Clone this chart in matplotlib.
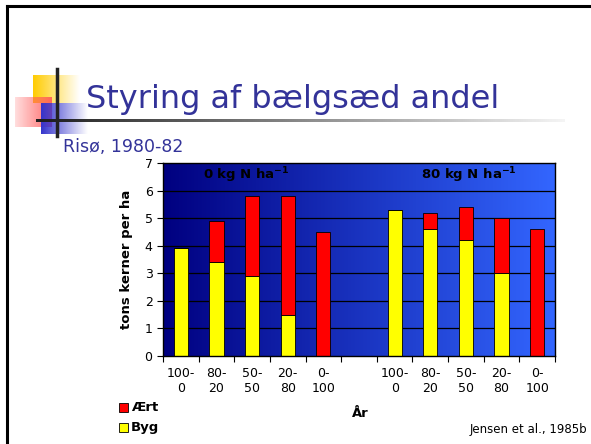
import numpy as np
import matplotlib.pyplot as plt
from matplotlib.patches import Rectangle
from matplotlib.lines import Line2D

# data: Byg (barley) and Ært (pea) yield, tons per ha
mix_labels = ['100-\n0', '80-\n20', '50-\n50', '20-\n80', '0-\n100',
              '',
              '100-\n0', '80-\n20', '50-\n50', '20-\n80', '0-\n100']
byg = [3.9, 3.4, 2.9, 1.5, 0.0, 0.0, 5.3, 4.6, 4.2, 3.0, 0.0]
aert = [0.0, 1.5, 2.9, 4.3, 4.5, 0.0, 0.0, 0.6, 1.2, 2.0, 4.6]
groups = ['0 kg N ha$^{\\mathbf{-1}}$', '80 kg N ha$^{\\mathbf{-1}}$']

title_col = '#333399'

fig = plt.figure(figsize=(5.91, 4.44), dpi=100)

# slide decoration
def px(x, y):
    return x / 591, 1 - y / 444

fig.add_artist(Line2D([px(7, 0)[0], px(7, 0)[0]], [px(0, 6)[1], 0], color='black', lw=2.2))
fig.add_artist(Line2D([px(7, 0)[0], 1], [px(0, 6)[1], px(0, 6)[1]], color='black', lw=2.2))

deco = fig.add_axes([0, 0, 1, 1], zorder=-5)
deco.axis('off')

def grad_box(ax, x0, x1, y0, y1, rgb, a_left, a_right, z):
    img = np.zeros((2, 128, 4))
    img[..., :3] = rgb
    img[..., 3] = np.linspace(a_left, a_right, 128)
    ax.imshow(img, extent=(x0, x1, y1, y0), aspect='auto', zorder=z, interpolation='bilinear')

grad_box(deco, 33, 80, 76, 103, (1.0, 0.8, 0.0), 1, 0, 1)
grad_box(deco, 15, 52, 97, 127, (1.0, 0.35, 0.35), 0.2, 0.9, 2)
grad_box(deco, 41, 88, 103, 134, (0.2, 0.2, 0.8), 1, 0, 3)
# title underline fading to the right
grad_box(deco, 36, 565, 120, 122.5, (0.12, 0.12, 0.12), 1, 0.05, 4)
deco.plot([57, 57], [69, 136], color='#222222', lw=2.5, zorder=5)
deco.set_xlim(0, 591)
deco.set_ylim(444, 0)

fig.text(px(86, 0)[0], px(0, 108)[1], 'Styring af bælgsæd andel', color=title_col,
         fontsize=23, fontfamily='DejaVu Sans')
fig.text(px(63, 0)[0], px(0, 152)[1], 'Risø, 1980-82', color=title_col, fontsize=12.5)

# chart
ax = fig.add_axes([163 / 591, 1 - 356 / 444, (555 - 163) / 591, (356 - 163) / 444])
x = np.arange(len(mix_labels))
ax.set_xlim(-0.5, len(mix_labels) - 0.5)
ax.set_ylim(0, 7)

bg = np.zeros((2, 256, 3))
left = np.array([0x00, 0x00, 0x80]) / 255
right = np.array([0x33, 0x66, 0xff]) / 255
t = np.linspace(0, 1, 256)
bg[:] = left + (right - left) * t[:, None]
ax.imshow(bg, extent=(-0.5, len(mix_labels) - 0.5, 0, 7), aspect='auto', zorder=0)

for yv in range(1, 7):
    ax.axhline(yv, color='black', lw=0.9, zorder=1)

ax.bar(x, byg, width=0.4, color='#ffff00', edgecolor='black', lw=0.6, zorder=2, label='Byg')
ax.bar(x, aert, bottom=byg, width=0.4, color='#ff0000', edgecolor='black', lw=0.6, zorder=2,
       label='Ært')

ax.set_yticks(range(8))
ax.tick_params(axis='y', labelsize=9, length=4, direction='out')
ax.set_xticks(np.arange(-0.5, len(mix_labels), 1))
ax.set_xticklabels([])
ax.tick_params(axis='x', length=4, direction='out')
ax.set_xticks(x, minor=True)
ax.set_xticklabels(mix_labels, minor=True, fontsize=9)
ax.tick_params(axis='x', which='minor', length=0, pad=8)
for s in ax.spines.values():
    s.set_linewidth(1)

ax.set_ylabel('tons kerner per ha', fontsize=9.5, fontweight='bold', labelpad=8)
ax.text(0.62, 6.55, groups[0], fontsize=9.5, fontweight='bold', va='center', zorder=3)
ax.text(6.74, 6.55, groups[1], fontsize=9.5, fontweight='bold', va='center', zorder=3)

fig.text(px(360, 0)[0], px(0, 413)[1], 'År', fontsize=9.5, fontweight='bold', ha='center', va='center')
fig.text(px(587, 0)[0], px(0, 429)[1], 'Jensen et al., 1985b', fontsize=8.5, ha='right', va='center')

# legend
for yy, col, lab in [(407, '#ff0000', 'Ært'), (427, '#ffff00', 'Byg')]:
    fig.add_artist(Rectangle(px(119, yy + 5), 9 / 591, 9 / 444, facecolor=col, edgecolor='black', lw=0.6))
    fig.text(px(131, 0)[0], px(0, yy)[1], lab, fontsize=9.5, fontweight='bold', va='center')

fig.savefig('out.png', dpi=100)
